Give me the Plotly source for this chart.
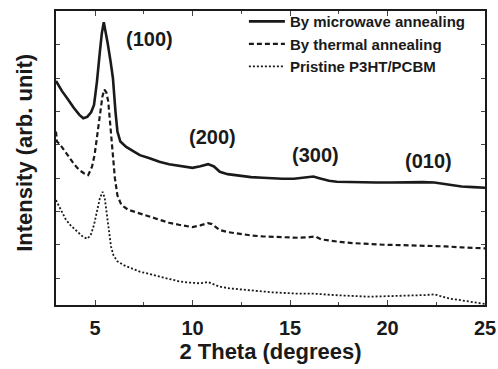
import plotly.graph_objects as go

# ---- data ----
mw_x = [3.0, 3.3, 3.6, 3.9, 4.2, 4.4, 4.6, 4.8, 4.95, 5.1, 5.25, 5.35, 5.45, 5.55, 5.65, 5.8, 5.92, 6.05, 6.15, 6.3,
        6.6, 7.0, 7.3, 7.8, 8.3, 8.8, 9.3, 9.7, 10.0, 10.4, 10.8, 11.1, 11.4, 11.8, 12.4, 13.0, 13.6, 14.1, 14.6,
        15.2, 15.7, 16.2, 16.5, 17.0, 17.4, 18.0, 18.7, 19.4, 20.2, 21.0, 21.8, 22.4, 22.8, 23.2, 23.8, 24.4, 25.0]
mw_y = [5.92, 5.62, 5.38, 5.12, 4.90, 4.80, 4.84, 4.98, 5.20, 5.90, 6.80, 7.35, 7.68, 7.40, 7.05, 6.50, 6.00, 5.00, 4.40, 4.10,
        3.94, 3.80, 3.69, 3.60, 3.49, 3.42, 3.37, 3.32, 3.31, 3.36, 3.42, 3.35, 3.19, 3.12, 3.07, 3.03, 3.01, 2.99, 2.98,
        2.98, 3.01, 3.05, 3.00, 2.92, 2.89, 2.88, 2.87, 2.87, 2.87, 2.88, 2.88, 2.87, 2.83, 2.79, 2.75, 2.73, 2.71]

th_x = [3.0, 3.05, 3.2, 3.45, 3.7, 3.95, 4.2, 4.45, 4.65, 4.85, 4.98, 5.1, 5.25, 5.38, 5.48, 5.58, 5.68, 5.8, 5.92, 6.02,
        6.15, 6.35, 6.7, 7.3, 7.8, 8.3, 8.8, 9.3, 9.7, 10.0, 10.4, 10.8, 11.0, 11.4, 11.8, 12.4, 13.0, 13.6, 14.1,
        14.8, 15.4, 16.0, 16.3, 16.6, 17.0, 17.5, 18.2, 19.0, 19.8, 20.6, 21.4, 22.3, 23.0, 23.8, 24.5, 25.0]
th_y = [4.40, 4.10, 4.02, 3.80, 3.62, 3.40, 3.24, 3.14, 3.09, 3.35, 3.70, 4.25, 4.95, 5.45, 5.66, 5.58, 5.30, 4.50, 3.60, 3.00,
        2.48, 2.20, 2.05, 1.94, 1.83, 1.74, 1.66, 1.60, 1.55, 1.53, 1.58, 1.65, 1.62, 1.44, 1.38, 1.32, 1.28, 1.25, 1.24,
        1.22, 1.21, 1.23, 1.25, 1.16, 1.12, 1.09, 1.05, 1.02, 1.00, 0.99, 0.98, 0.97, 0.95, 0.92, 0.90, 0.89]

pr_x = [3.0, 3.25, 3.5, 3.75, 4.0, 4.2, 4.4, 4.62, 4.8, 4.95, 5.1, 5.25, 5.39, 5.5, 5.6, 5.7, 5.82, 5.95, 6.15, 6.5,
        6.9, 7.3, 7.8, 8.3, 8.8, 9.3, 9.7, 10.0, 10.4, 10.8, 11.0, 11.4, 11.9, 12.4, 13.0, 13.6, 14.1, 14.8, 15.4,
        16.2, 16.8, 17.5, 18.3, 19.0, 19.7, 20.5, 21.3, 22.0, 22.4, 22.8, 23.2, 23.8, 24.4, 25.0]
pr_y = [2.34, 2.05, 1.76, 1.58, 1.45, 1.32, 1.23, 1.18, 1.32, 1.60, 2.05, 2.40, 2.59, 2.40, 1.95, 1.40, 0.95, 0.68, 0.50, 0.38,
        0.28, 0.19, 0.12, 0.04, -0.04, -0.10, -0.13, -0.15, -0.16, -0.12, -0.16, -0.26, -0.31, -0.34, -0.38, -0.41, -0.43,
        -0.45, -0.47, -0.47, -0.50, -0.52, -0.54, -0.56, -0.55, -0.54, -0.53, -0.51, -0.49, -0.55, -0.62, -0.67, -0.72, -0.78]

series_names = ["By microwave annealing", "By thermal annealing", "Pristine P3HT/PCBM"]
x_ticks = [5, 10, 15, 20, 25]
y_ticks = [0, 1, 2, 3, 4, 5, 6, 7]
peak_labels = ["(100)", "(200)", "(300)", "(010)"]
peak_pos = [(7.8, 7.18), (11.0, 4.23), (16.3, 3.69), (22.1, 3.51)]

FONT = "Liberation Sans, Arial, sans-serif"

fig = go.Figure()
fig.add_trace(go.Scatter(x=mw_x, y=mw_y, mode="lines", name=series_names[0],
                         line=dict(color="#1a1a1a", width=2.6)))
fig.add_trace(go.Scatter(x=th_x, y=th_y, mode="lines", name=series_names[1],
                         line=dict(color="#1a1a1a", width=2.2, dash="5px,3px")))
fig.add_trace(go.Scatter(x=pr_x, y=pr_y, mode="lines", name=series_names[2],
                         line=dict(color="#1a1a1a", width=1.8, dash="2px,2px")))

for txt, (px, py) in zip(peak_labels, peak_pos):
    fig.add_annotation(x=px, y=py, text=txt, showarrow=False,
                       font=dict(family=FONT, size=20, color="#1a1a1a", weight="bold"))

fig.add_annotation(xref="paper", yref="paper", x=-0.075, y=0.517, text="Intensity (arb. unit)",
                   textangle=-90, showarrow=False, xanchor="center", yanchor="middle",
                   font=dict(family=FONT, size=22, color="#1a1a1a", weight="bold"))

fig.update_layout(
    width=498, height=369,
    margin=dict(l=56, r=13, t=11, b=64, autoexpand=False),
    paper_bgcolor="white", plot_bgcolor="white",
    showlegend=True,
    legend=dict(x=0.438, y=1.02, xanchor="left", yanchor="top",
                bgcolor="rgba(0,0,0,0)", borderwidth=0, itemwidth=36,
                font=dict(family=FONT, size=15, color="#1a1a1a", weight="bold"),
                tracegroupgap=0),
    font=dict(family=FONT, color="#1a1a1a"),
)
fig.update_xaxes(range=[3, 25], tickvals=x_ticks, ticks="inside", ticklen=5, tickwidth=1,
                 showline=True, linecolor="#1a1a1a", linewidth=1.5, mirror="ticks",
                 showgrid=False, zeroline=False, ticklabelstandoff=4,
                 minor=dict(dtick=2.5, tick0=0, ticks="inside", ticklen=3, showgrid=False),
                 tickfont=dict(family=FONT, size=20, color="#1a1a1a", weight="bold"),
                 title=dict(text="2 Theta (degrees)", standoff=6,
                            font=dict(family=FONT, size=22, color="#1a1a1a", weight="bold")))
fig.update_yaxes(range=[-0.81, 8.02], tickvals=y_ticks, ticks="inside", ticklen=4, tickwidth=1,
                 showticklabels=False,
                 showline=True, linecolor="#1a1a1a", linewidth=1.5, mirror="ticks",
                 showgrid=False, zeroline=False)

fig.write_html("out.html", config={"displayModeBar": False},
               post_script="document.body.style.margin='0';document.body.style.overflow='hidden';")
